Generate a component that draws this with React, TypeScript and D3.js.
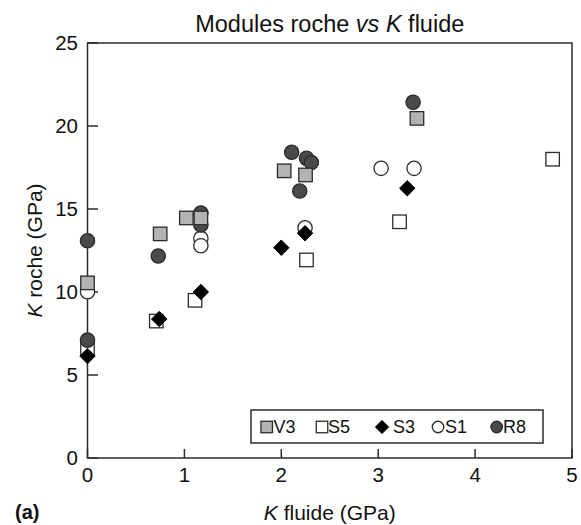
import React from "react";
import * as d3 from "d3";

// ---- data ----
const seriesNames = ["V3", "S5", "S3", "S1", "R8"];
const xTicks = [0, 1, 2, 3, 4, 5];
const yTicks = [0, 5, 10, 15, 20, 25];

const v3Points: [number, number][] = [
  [0, 10.55], [0.75, 13.5], [1.02, 14.46], [1.17, 14.46], [2.03, 17.3], [2.25, 17.05], [3.4, 20.46],
];
const s5Points: [number, number][] = [
  [0, 6.6], [0.71, 8.25], [1.11, 9.5], [2.26, 11.93], [3.22, 14.23], [4.8, 18.0],
];
const s3Points: [number, number][] = [
  [0, 6.14], [0.74, 8.37], [1.17, 10.0], [2.0, 12.67], [2.245, 13.54], [3.3, 16.25],
];
const s1Points: [number, number][] = [
  [0, 10.02], [1.17, 13.23], [1.17, 12.79], [2.245, 13.87], [3.03, 17.45], [3.37, 17.45],
];
const r8Points: [number, number][] = [
  [0, 13.09], [0, 7.1], [0.73, 12.17], [1.17, 14.76], [1.17, 14.04], [2.107, 18.42],
  [2.26, 18.05], [2.31, 17.8], [2.19, 16.08], [3.36, 21.43],
];

const FONT = "'Liberation Sans', Arial, Helvetica, sans-serif";
const STROKE = "#2b2b2b";

type Kind = "graySquare" | "whiteSquare" | "diamond" | "whiteCircle" | "darkCircle";

function Marker({ kind, x, y, s }: { kind: Kind; x: number; y: number; s: number }) {
  const h = s / 2;
  if (kind === "graySquare" || kind === "whiteSquare") {
    return (
      <rect x={x - h} y={y - h} width={s} height={s}
        fill={kind === "graySquare" ? "#b3b3b3" : "#ffffff"} stroke={STROKE} strokeWidth={1.3} />
    );
  }
  if (kind === "diamond") {
    const d = h * 1.1;
    return (
      <path d={`M${x},${y - d}L${x + d},${y}L${x},${y + d}L${x - d},${y}Z`} fill="#000" stroke="#000" strokeWidth={1} />
    );
  }
  return (
    <circle cx={x} cy={y} r={h} fill={kind === "darkCircle" ? "#4a4a4a" : "#ffffff"} stroke={STROKE} strokeWidth={1.3} />
  );
}

export default function App() {
  const W = 581, H = 525;
  const left = 87.5, right = 572, top = 43, bottom = 458;
  const x = d3.scaleLinear().domain([0, 5]).range([left, right]);
  const y = d3.scaleLinear().domain([0, 25]).range([bottom, top]);

  const series: { name: string; kind: Kind; pts: [number, number][] }[] = [
    { name: "V3", kind: "graySquare", pts: v3Points },
    { name: "S5", kind: "whiteSquare", pts: s5Points },
    { name: "S3", kind: "diamond", pts: s3Points },
    { name: "S1", kind: "whiteCircle", pts: s1Points },
    { name: "R8", kind: "darkCircle", pts: r8Points },
  ];
  const drawOrder = ["S5", "S1", "R8", "V3", "S3"];

  // legend layout
  const legMarkerX = [266.7, 322, 382, 438, 496.7];
  const legTextX = [273.5, 328, 393, 445, 503];

  return (
    <svg width={W} height={H} style={{ position: "absolute", left: 0, top: 0, background: "#fff" }}
      fontFamily={FONT}>
      <rect x={0} y={0} width={W} height={H} fill="#fff" />
      {/* title */}
      <text x={(left + right) / 2} y={31.5} textAnchor="middle" fontSize={23.5} fill="#111">
        Modules roche <tspan fontStyle="italic">vs K</tspan> fluide
      </text>

      {/* frame */}
      <rect x={left} y={top} width={right - left} height={bottom - top} fill="none" stroke={STROKE} strokeWidth={1.5} />

      {/* y ticks */}
      {yTicks.map((t) => (
        <g key={"y" + t}>
          <line x1={left} x2={left + 10.5} y1={y(t)} y2={y(t)} stroke={STROKE} strokeWidth={1.5} />
          <text x={78} y={y(t)} dy="0.36em" textAnchor="end" fontSize={20.5} fill="#111">{t}</text>
        </g>
      ))}
      {/* x ticks */}
      {xTicks.map((t) => (
        <g key={"x" + t}>
          <line x1={x(t)} x2={x(t)} y1={bottom} y2={bottom - 9} stroke={STROKE} strokeWidth={1.5} />
          <text x={x(t)} y={481.5} textAnchor="middle" fontSize={20.5} fill="#111">{t}</text>
        </g>
      ))}

      {/* axis labels */}
      <text x={(left + right) / 2} y={520} textAnchor="middle" fontSize={21} fill="#111">
        <tspan fontStyle="italic">K</tspan> fluide (GPa)
      </text>
      <text transform={`translate(42,${(top + bottom) / 2}) rotate(-90)`} textAnchor="middle" fontSize={21} fill="#111">
        <tspan fontStyle="italic">K</tspan> roche (GPa)
      </text>
      <text x={15} y={519} fontSize={20} fontWeight="bold" fill="#111">(a)</text>

      {/* points */}
      {drawOrder.map((n) => {
        const s = series.find((d) => d.name === n)!;
        return (
          <g key={n}>
            {s.pts.map((p, i) => (
              <Marker key={i} kind={s.kind} x={x(p[0])} y={y(p[1])}
                s={s.kind === "diamond" ? 14 : s.kind.includes("Circle") ? 14.3 : 13.5} />
            ))}
          </g>
        );
      })}

      {/* legend */}
      <rect x={251} y={410} width={292} height={33} fill="#fff" stroke={STROKE} strokeWidth={1.5} />
      {series.map((s, i) => (
        <g key={"leg" + s.name}>
          <Marker kind={s.kind} x={legMarkerX[i]} y={427} s={s.kind === "diamond" ? 12 : 11.5} />
          <text x={legTextX[i]} y={427} dy="0.36em" fontSize={18} fill="#111">{seriesNames[i]}</text>
        </g>
      ))}
    </svg>
  );
}
